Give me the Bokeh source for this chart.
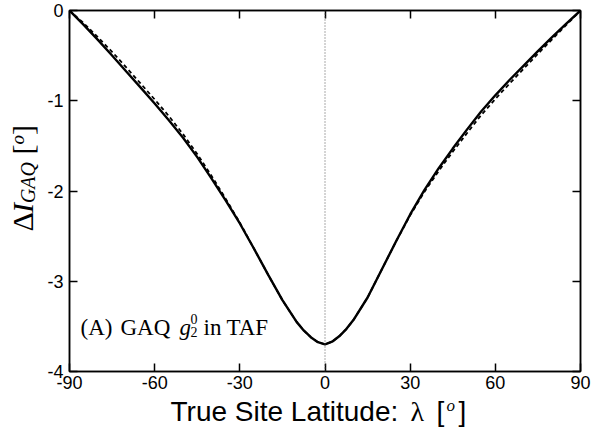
from bokeh.plotting import figure
from bokeh.layouts import row, column
from bokeh.models import Label, Span, LinearAxis, FixedTicker, Range1d, CustomLabelingPolicy
from bokeh.embed import file_html
from bokeh.resources import INLINE

# ---- data ----
lat = [-90, -85, -80, -75, -70, -65, -60, -55, -50, -45, -40, -35, -30, -25, -20,
       -15, -10, -7.5, -5, -2.5, 0, 2.5, 5, 7.5, 10, 15, 20, 25, 30, 35, 40, 45,
       50, 55, 60, 65, 70, 75, 80, 85, 90]
dI_solid = [0.0, -0.16, -0.326, -0.498, -0.676, -0.852, -1.03, -1.215, -1.41, -1.625,
            -1.86, -2.105, -2.36, -2.64, -2.93, -3.21, -3.45, -3.545, -3.62, -3.675,
            -3.70, -3.67, -3.61, -3.53, -3.43, -3.18, -2.87, -2.56, -2.26, -1.99,
            -1.75, -1.53, -1.32, -1.12, -0.94, -0.77, -0.61, -0.45, -0.295, -0.145, 0.0]
dI_dashed = [0.0, -0.14, -0.296, -0.458, -0.631, -0.807, -0.985, -1.17, -1.37, -1.59,
             -1.83, -2.085, -2.35, -2.64, -2.93, -3.21, -3.45, -3.545, -3.62, -3.675,
             -3.70, -3.67, -3.61, -3.53, -3.43, -3.18, -2.87, -2.56, -2.27, -2.01,
             -1.78, -1.565, -1.36, -1.16, -0.98, -0.81, -0.645, -0.48, -0.32, -0.16, 0.0]
x_ticks = [-90, -60, -30, 0, 30, 60, 90]
y_ticks = [-4, -3, -2, -1, 0]

p = figure(width=550, height=396, x_range=Range1d(-90, 90), y_range=Range1d(-4, 0),
           output_backend="svg", toolbar_location=None,
           min_border_left=27, min_border_right=12, min_border_top=10, min_border_bottom=25)
p.grid.visible = False
p.outline_line_color = "black"
p.outline_line_width = 1.5
p.background_fill_color = "white"
p.border_fill_color = "white"

no_labels = CustomLabelingPolicy(code="for (const i of indices) { indices.unset(i) }; return indices")


def style(ax, ticks, show_labels=True, standoff=6):
    ax.ticker = FixedTicker(ticks=ticks)
    ax.major_tick_in = 8
    ax.major_tick_out = 0
    ax.minor_tick_line_color = None
    ax.axis_line_color = "black"
    ax.axis_line_width = 1.5
    ax.major_tick_line_width = 1.5
    ax.major_tick_line_color = "black"
    ax.major_label_text_font = "Liberation Sans"
    ax.major_label_text_color = "black"
    ax.major_label_standoff = standoff
    if show_labels:
        ax.major_label_text_font_size = "18px"
        ax.major_label_overrides = {t: str(t) for t in ticks}
    else:
        ax.major_label_text_font_size = "0px"
        ax.major_label_policy = no_labels


style(p.xaxis[0], x_ticks, True, 4)
style(p.yaxis[0], y_ticks, True, 6)
top = LinearAxis()
right = LinearAxis()
style(top, x_ticks, False, 0)
style(right, y_ticks, False, 0)
p.add_layout(top, "above")
p.add_layout(right, "right")

p.add_layout(Span(location=0, dimension="height", line_color="#555555",
                  line_width=1, line_dash="1 2"))

p.line(lat, dI_dashed, line_color="black", line_width=1.8, line_dash="4 3")
p.line(lat, dI_solid, line_color="black", line_width=2.4)


def lab(fig, x, y, t, font="Liberation Serif", size="23px", style="normal", angle=0):
    fig.add_layout(Label(x=x, y=y, x_units="screen", y_units="screen", text=t,
                         text_font=font, text_font_size=size, text_font_style=style,
                         text_color="black", angle=angle, angle_units="deg",
                         text_align="left", text_baseline="alphabetic"))


# panel annotation (inside the frame)
lab(p, 11, 44, "(A)")
lab(p, 51, 44, "GAQ")
lab(p, 110, 44, "g", style="italic")
lab(p, 121, 53, "0", size="14px")
lab(p, 121, 40, "2", size="14px")
lab(p, 134, 44, "in")
lab(p, 157, 44, "TAF")


def blank(w, h):
    f = figure(width=w, height=h, output_backend="svg", toolbar_location=None,
               x_axis_type=None, y_axis_type=None, x_range=Range1d(0, w), y_range=Range1d(0, h),
               min_border_left=0, min_border_right=0, min_border_top=0, min_border_bottom=0)
    f.grid.visible = False
    f.outline_line_color = None
    f.background_fill_color = "white"
    f.border_fill_color = "white"
    return f


# y axis label (rotated), in a narrow panel to the left
ylab = blank(42, 396)
lab(ylab, 21.5, 140, "Δ", size="30px", angle=90)
lab(ylab, 21.5, 158.4, "I", size="30px", style="italic", angle=90)
lab(ylab, 27.5, 168.4, "GAQ", size="20px", style="italic", angle=90)
lab(ylab, 21.5, 217, "[", size="30px", angle=90)
lab(ylab, 17.4, 227, "o", size="19px", style="italic", angle=90)
lab(ylab, 21.5, 236.5, "]", size="30px", angle=90)

# x axis label, in a strip below
xlab = blank(592, 38)
lab(xlab, 170, 23, "True Site Latitude:", font="Liberation Sans", size="28px")
lab(xlab, 410, 23, "λ", size="28px")
lab(xlab, 436, 23, "[", font="Liberation Sans", size="28px")
lab(xlab, 446, 29, "o", size="17px", style="italic")
lab(xlab, 458, 23, "]", font="Liberation Sans", size="28px")

layout = column(row(ylab, p, spacing=0), xlab, spacing=0)
open("out.html", "w").write(file_html(layout, INLINE))
